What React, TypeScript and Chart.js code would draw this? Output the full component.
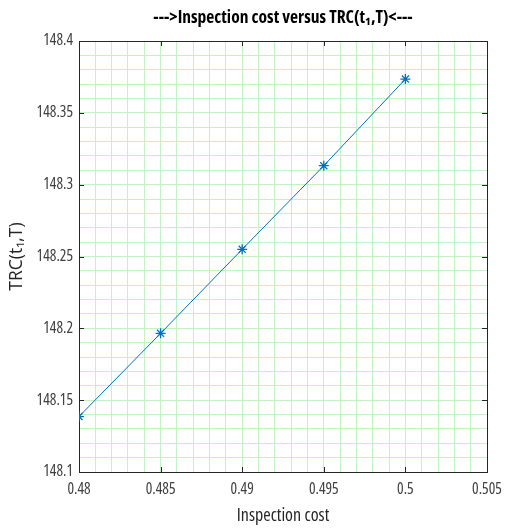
import React, { useEffect, useRef } from 'react';
import { Chart, registerables } from 'chart.js';

Chart.register(...registerables);

const inspectionCost = [0.48, 0.485, 0.49, 0.495, 0.5];
const trcValues = [148.1386, 148.1965, 148.255, 148.3132, 148.3735];
const xTickLabels = ['0.48', '0.485', '0.49', '0.495', '0.5', '0.505'];
const yTickLabels = ['148.1', '148.15', '148.2', '148.25', '148.3', '148.35', '148.4'];

const FONT = "'Open Sans', 'Liberation Sans', Arial, sans-serif";
const AXIS_COLOR = '#262626';
const GRID_COLOR = 'rgb(195, 242, 195)';

function xLabel(v: number): string {
  const k = Math.round(v * 1000);
  if (k % 5 !== 0) return '';
  return xTickLabels[(k - 480) / 5] ?? '';
}
function yLabel(v: number): string {
  const k = Math.round(v * 100);
  if (k % 5 !== 0) return '';
  return yTickLabels[(k - 14810) / 5] ?? '';
}

const framePlugin = {
  id: 'frame',
  beforeDatasetsDraw(chart: any) {
    const { ctx, chartArea } = chart;
    const { left, right, top, bottom } = chartArea;
    const xs = chart.scales.x;
    const ys = chart.scales.y;
    const len = 5;
    ctx.save();
    ctx.strokeStyle = AXIS_COLOR;
    ctx.lineWidth = 1;
    ctx.beginPath();
    xs.ticks.forEach((t: any) => {
      if (xLabel(t.value) === '') return;
      const px = Math.round(xs.getPixelForValue(t.value)) + 0.5;
      ctx.moveTo(px, bottom);
      ctx.lineTo(px, bottom - len);
      ctx.moveTo(px, top);
      ctx.lineTo(px, top + len);
    });
    ys.ticks.forEach((t: any) => {
      if (yLabel(t.value) === '') return;
      const py = Math.round(ys.getPixelForValue(t.value)) + 0.5;
      ctx.moveTo(left, py);
      ctx.lineTo(left + len, py);
      ctx.moveTo(right, py);
      ctx.lineTo(right - len, py);
    });
    ctx.stroke();
    ctx.strokeRect(Math.round(left) + 0.5, Math.round(top) + 0.5, Math.round(right - left), Math.round(bottom - top));
    ctx.restore();
  },
};

export default function App() {
  const ref = useRef<HTMLCanvasElement | null>(null);
  useEffect(() => {
    document.body.style.margin = '0';
    if (!ref.current) return;
    const chart = new Chart(ref.current, {
      type: 'line',
      data: {
        datasets: [
          {
            data: inspectionCost.map((x, i) => ({ x, y: trcValues[i] })),
            borderColor: '#0072BD',
            backgroundColor: '#0072BD',
            borderWidth: 1,
            pointStyle: 'star',
            pointRadius: 5,
            pointBorderWidth: 1.3,
            pointBorderColor: '#0072BD',
            fill: false,
            tension: 0,
          },
        ],
      },
      options: {
        responsive: false,
        animation: false,
        layout: { padding: { left: 0, right: 18, top: 0, bottom: 0 } },
        plugins: {
          legend: { display: false },
          tooltip: { enabled: false },
          title: {
            display: true,
            fullSize: false,
            text: '--->Inspection cost versus TRC(t\u2081,T)<---',
            color: '#000',
            font: { family: FONT, size: 17.5, weight: 'bold condensed' as any },
            padding: { top: 8, bottom: 12 },
          },
        },
        scales: {
          x: {
            type: 'linear',
            min: 0.48,
            max: 0.505,
            afterFit: (s: any) => { s.height = 57; s.paddingRight = 0; s.paddingLeft = 0; },
            border: { display: false },
            grid: { color: GRID_COLOR, lineWidth: 1, drawTicks: false },
            ticks: {
              stepSize: 0.001,
              maxTicksLimit: 100,
              autoSkip: false,
              maxRotation: 0,
              padding: 8,
              color: '#404040',
              font: { family: FONT, size: 15.5, weight: 'condensed' as any },
              callback: (v: any) => xLabel(Number(v)),
            },
            title: {
              display: true,
              text: 'Inspection cost',
              color: AXIS_COLOR,
              font: { family: FONT, size: 18, weight: 'condensed' as any },
              padding: { top: 0, bottom: 2.2 },
            },
          },
          y: {
            type: 'linear',
            min: 148.1,
            max: 148.4,
            afterFit: (s: any) => { s.width = 79; s.paddingTop = 0; s.paddingBottom = 0; },
            border: { display: false },
            grid: { color: GRID_COLOR, lineWidth: 1, drawTicks: false },
            ticks: {
              stepSize: 0.01,
              maxTicksLimit: 100,
              autoSkip: false,
              padding: 6,
              color: '#404040',
              font: { family: FONT, size: 15.5, weight: 'condensed' as any },
              callback: (v: any) => yLabel(Number(v)),
            },
            title: {
              display: true,
              text: 'TRC(t\u2081,T)',
              color: AXIS_COLOR,
              font: { family: FONT, size: 17.5 },
              padding: { top: 7, bottom: 0 },
            },
          },
        },
      },
      plugins: [framePlugin],
    });
    return () => chart.destroy();
  }, []);
  return (
    <div style={{ width: 505, height: 529 }}>
      <canvas ref={ref} width={505} height={529} style={{ display: 'block' }} />
    </div>
  );
}
